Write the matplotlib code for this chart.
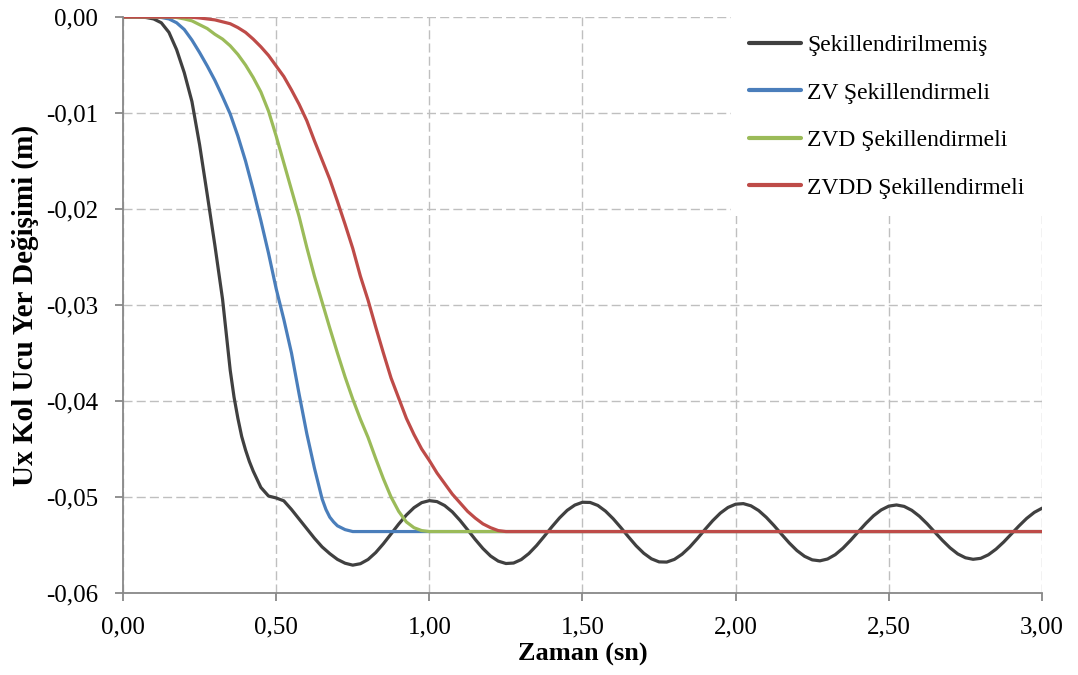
import matplotlib
matplotlib.use("Agg")
import matplotlib.pyplot as plt
from matplotlib.ticker import FuncFormatter, MultipleLocator

plt.rcParams['font.family'] = ['Liberation Serif', 'DejaVu Serif']

# --- Unshaped response ---
t_unshaped = [0.00, 0.05, 0.075, 0.10, 0.125, 0.15, 0.175, 0.20, 0.225, 0.25,
              0.275, 0.30, 0.325, 0.3375, 0.35, 0.3625, 0.375, 0.3875, 0.40, 0.4125,
              0.425, 0.45, 0.475, 0.50, 0.525, 0.55, 0.575, 0.60, 0.625, 0.65,
              0.675, 0.70, 0.725, 0.75, 0.775, 0.80, 0.825, 0.85, 0.875, 0.90,
              0.925, 0.95, 0.975, 1.00, 1.025, 1.05, 1.075, 1.10, 1.125, 1.15,
              1.175, 1.20, 1.225, 1.25, 1.275, 1.30, 1.325, 1.35, 1.375, 1.40,
              1.425, 1.45, 1.475, 1.50, 1.525, 1.55, 1.575, 1.60, 1.625, 1.65,
              1.675, 1.70, 1.725, 1.75, 1.775, 1.80, 1.825, 1.85, 1.875, 1.90,
              1.925, 1.95, 1.975, 2.00, 2.025, 2.05, 2.075, 2.10, 2.125, 2.15,
              2.175, 2.20, 2.225, 2.25, 2.275, 2.30, 2.325, 2.35, 2.375, 2.40,
              2.425, 2.45, 2.475, 2.50, 2.525, 2.55, 2.575, 2.60, 2.625, 2.65,
              2.675, 2.70, 2.725, 2.75, 2.775, 2.80, 2.825, 2.85, 2.875, 2.90,
              2.925, 2.95, 2.975, 3.00]
u_unshaped = [0.0, 0.0, -0.00005, -0.0002, -0.0006, -0.0016, -0.0034, -0.0058, -0.0088, -0.0133,
              -0.0185, -0.0238, -0.0294, -0.0331, -0.0368, -0.0396, -0.0418, -0.0437, -0.0451, -0.0463,
              -0.0473, -0.0490, -0.0499, -0.0501, -0.0504, -0.0513, -0.0523, -0.0533, -0.0543, -0.0552,
              -0.0559, -0.0565, -0.0569, -0.05710, -0.05695, -0.05651, -0.05579, -0.05487, -0.05385, -0.05282,
              -0.05188, -0.05111, -0.05059, -0.05038, -0.05048, -0.05089, -0.05155, -0.05243, -0.05342, -0.05443,
              -0.05537, -0.05615, -0.05668, -0.05693, -0.05688, -0.05652, -0.05589, -0.05506, -0.05410, -0.05311,
              -0.05218, -0.05139, -0.05084, -0.05055, -0.05057, -0.05088, -0.05147, -0.05226, -0.05318, -0.05415,
              -0.05508, -0.05586, -0.05644, -0.05676, -0.05678, -0.05650, -0.05596, -0.05522, -0.05433, -0.05338,
              -0.05247, -0.05168, -0.05109, -0.05075, -0.05069, -0.05092, -0.05141, -0.05212, -0.05297, -0.05389,
              -0.05479, -0.05558, -0.05618, -0.05655, -0.05665, -0.05646, -0.05601, -0.05534, -0.05452, -0.05363,
              -0.05275, -0.05196, -0.05135, -0.05095, -0.05083, -0.05098, -0.05139, -0.05201, -0.05279, -0.05366,
              -0.05452, -0.05530, -0.05593, -0.05633, -0.05649, -0.05639, -0.05602, -0.05543, -0.05469, -0.05385,
              -0.05301, -0.05223, -0.05160, -0.05117]

# --- ZV shaped response ---
t_zv = [0.00, 0.10, 0.125, 0.15, 0.175, 0.20, 0.225, 0.25, 0.275, 0.30,
        0.325, 0.35, 0.375, 0.40, 0.425, 0.45, 0.475, 0.50, 0.525, 0.55,
        0.575, 0.60, 0.625, 0.65, 0.6625, 0.675, 0.6875, 0.70, 0.725, 0.75,
        0.80, 3.00]
u_zv = [0.0, 0.0, -0.00005, -0.0002, -0.0006, -0.0013, -0.0024, -0.0037, -0.0051, -0.0066,
        -0.0083, -0.0101, -0.0124, -0.0150, -0.0180, -0.0212, -0.0246, -0.0283, -0.0315, -0.0350,
        -0.0393, -0.0434, -0.0470, -0.0502, -0.0513, -0.0521, -0.0526, -0.0530, -0.0534, -0.0536,
        -0.0536, -0.0536]

# --- ZVD shaped response ---
t_zvd = [0.00, 0.15, 0.175, 0.20, 0.225, 0.25, 0.275, 0.30, 0.325, 0.35,
         0.375, 0.40, 0.425, 0.45, 0.475, 0.50, 0.525, 0.55, 0.575, 0.60,
         0.625, 0.65, 0.675, 0.70, 0.725, 0.75, 0.775, 0.80, 0.825, 0.85,
         0.875, 0.90, 0.925, 0.95, 0.975, 1.00, 1.025, 3.00]
u_zvd = [0.0, 0.0, -0.00005, -0.0002, -0.0004, -0.0008, -0.0012, -0.0018, -0.0023, -0.0030,
         -0.0039, -0.0050, -0.0063, -0.0078, -0.0098, -0.0124, -0.0152, -0.0180, -0.0208, -0.0240,
         -0.0270, -0.0297, -0.0324, -0.0350, -0.0375, -0.0398, -0.0419, -0.0438, -0.0460, -0.0481,
         -0.0500, -0.0515, -0.0526, -0.0532, -0.0535, -0.0536, -0.0536, -0.0536]

# --- ZVDD shaped response ---
t_zvdd = [0.00, 0.20, 0.225, 0.25, 0.275, 0.30, 0.325, 0.35, 0.375, 0.40,
          0.425, 0.45, 0.475, 0.50, 0.525, 0.55, 0.575, 0.60, 0.625, 0.65,
          0.675, 0.70, 0.725, 0.75, 0.775, 0.80, 0.825, 0.85, 0.875, 0.90,
          0.925, 0.95, 0.975, 1.00, 1.025, 1.05, 1.075, 1.10, 1.125, 1.15,
          1.175, 1.20, 1.225, 1.25, 1.30, 3.00]
u_zvdd = [0.0, 0.0, -0.00003, -0.0001, -0.0002, -0.0003, -0.0005, -0.0007, -0.0011, -0.0016,
          -0.0023, -0.0031, -0.0040, -0.0051, -0.0062, -0.0076, -0.0091, -0.0108, -0.0129, -0.0149,
          -0.0169, -0.0192, -0.0216, -0.0241, -0.0270, -0.0295, -0.0323, -0.0350, -0.0376, -0.0397,
          -0.0418, -0.0435, -0.0450, -0.0462, -0.0475, -0.0486, -0.0497, -0.0506, -0.0515, -0.0522,
          -0.0528, -0.0532, -0.0535, -0.0536, -0.0536, -0.0536]

series_labels = ["Şekillendirilmemiş", "ZV Şekillendirmeli",
                 "ZVD Şekillendirmeli", "ZVDD Şekillendirmeli"]
series_colors = ["#404040", "#4A7EBB", "#9BBB59", "#BE4B48"]

x_label = "Zaman (sn)"
y_label = "Ux Kol Ucu Yer Değişimi (m)"

fig = plt.figure(figsize=(10.78, 6.75), dpi=100)
ax = fig.add_axes([0.1141, 0.1215, 0.8525, 0.8533])

data = [(t_unshaped, u_unshaped), (t_zv, u_zv), (t_zvd, u_zvd), (t_zvdd, u_zvdd)]
for (t, u), lab, col in zip(data, series_labels, series_colors):
    ax.plot(t, u, color=col, lw=2.3, label=lab, solid_capstyle='round',
            solid_joinstyle='round')

ax.set_xlim(0, 3.0)
ax.set_ylim(-0.06, 0.0)
ax.xaxis.set_major_locator(MultipleLocator(0.5))
ax.yaxis.set_major_locator(MultipleLocator(0.01))

comma = lambda v, p: f"{v:.2f}".replace(".", ",").replace("-0,00", "0,00")
ax.xaxis.set_major_formatter(FuncFormatter(comma))
ax.yaxis.set_major_formatter(FuncFormatter(comma))

ax.grid(True, color="#BFBFBF", linestyle=(0, (6.5, 3)), linewidth=1.0)
ax.set_axisbelow(True)

for side in ("top", "right"):
    ax.spines[side].set_visible(False)
for side in ("left", "bottom"):
    ax.spines[side].set_color("#888888")
    ax.spines[side].set_linewidth(1.3)

ax.tick_params(axis='both', direction='out', length=6, width=1.3,
               color="#888888", labelsize=18, labelcolor="black")
ax.tick_params(axis='y', pad=12)
ax.tick_params(axis='x', pad=11)

ax.set_xlabel(x_label, fontsize=19, fontweight='bold', labelpad=3)
ax.set_ylabel(y_label, fontsize=21, fontweight='bold', labelpad=5)

leg = ax.legend(loc='upper right', bbox_to_anchor=(1.0, 1.0), borderaxespad=0,
                fontsize=17, frameon=True, fancybox=False, framealpha=1,
                facecolor='white', edgecolor='none', handlelength=2.2,
                handletextpad=0.25, labelspacing=1.1, borderpad=0.75)
for h in leg.get_lines():
    h.set_linewidth(3)

fig.savefig("out.png", dpi=100)
